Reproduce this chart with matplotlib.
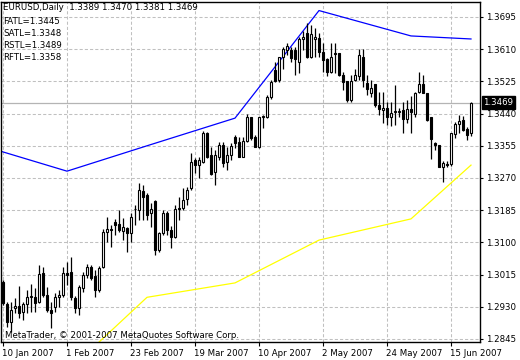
import numpy as np
import pandas as pd
import matplotlib
matplotlib.use('Agg')
import matplotlib.pyplot as plt
import matplotlib.transforms as mtransforms

# ---------------- data ----------------
start_date = '2007-01-10'

opens = [1.2995, 1.2937, 1.2891, 1.2926, 1.2932, 1.2917, 1.2937, 1.2956, 1.2957, 1.2943,
         1.3019, 1.2961, 1.2922, 1.2930, 1.2955, 1.2961, 1.3019, 1.3022, 1.2953, 1.2927,
         1.2980, 1.3014, 1.3035, 1.3011, 1.2974, 1.3036, 1.3127, 1.3135, 1.3155, 1.3149,
         1.3131, 1.3138, 1.3126, 1.3187, 1.3186, 1.3236, 1.3225, 1.3178, 1.3209, 1.3080,
         1.3126, 1.3178, 1.3133, 1.3115, 1.3188, 1.3191, 1.3215, 1.3243, 1.3318, 1.3304,
         1.3313, 1.3389, 1.3331, 1.3287, 1.3326, 1.3357, 1.3313, 1.3331, 1.3378, 1.3366,
         1.3326, 1.3368, 1.3431, 1.3378, 1.3353, 1.3432, 1.3432, 1.3485, 1.3555, 1.3529,
         1.3590, 1.3608, 1.3608, 1.3608, 1.3577, 1.3636, 1.3652, 1.3590, 1.3636, 1.3639,
         1.3603, 1.3583, 1.3551, 1.3599, 1.3599, 1.3542, 1.3527, 1.3476, 1.3529, 1.3538,
         1.3589, 1.3520, 1.3495, 1.3518, 1.3463, 1.3450, 1.3454, 1.3430, 1.3445, 1.3445,
         1.3450, 1.3426, 1.3451, 1.3439, 1.3496, 1.3518, 1.3495, 1.3430, 1.3363, 1.3357,
         1.3300, 1.3307, 1.3307, 1.3386, 1.3413, 1.3423, 1.3399, 1.3389]
highs = [1.3001, 1.2943, 1.2943, 1.2953, 1.2985, 1.2943, 1.2974, 1.2990, 1.2980, 1.3040,
         1.3035, 1.2983, 1.2943, 1.2966, 1.2974, 1.3035, 1.3048, 1.3061, 1.2958, 1.2988,
         1.3022, 1.3043, 1.3040, 1.3027, 1.3038, 1.3135, 1.3168, 1.3146, 1.3162, 1.3186,
         1.3164, 1.3141, 1.3178, 1.3199, 1.3257, 1.3252, 1.3230, 1.3204, 1.3212, 1.3128,
         1.3186, 1.3183, 1.3143, 1.3199, 1.3220, 1.3244, 1.3247, 1.3337, 1.3323, 1.3325,
         1.3394, 1.3391, 1.3353, 1.3344, 1.3366, 1.3366, 1.3353, 1.3362, 1.3384, 1.3379,
         1.3378, 1.3439, 1.3432, 1.3384, 1.3432, 1.3436, 1.3489, 1.3529, 1.3577, 1.3577,
         1.3616, 1.3626, 1.3616, 1.3616, 1.3643, 1.3659, 1.3678, 1.3674, 1.3665, 1.3652,
         1.3626, 1.3586, 1.3626, 1.3626, 1.3599, 1.3551, 1.3527, 1.3542, 1.3557, 1.3610,
         1.3610, 1.3542, 1.3529, 1.3518, 1.3498, 1.3498, 1.3471, 1.3471, 1.3515, 1.3454,
         1.3471, 1.3476, 1.3486, 1.3496, 1.3551, 1.3542, 1.3495, 1.3432, 1.3366, 1.3357,
         1.3316, 1.3316, 1.3390, 1.3419, 1.3436, 1.3434, 1.3405, 1.3470]
lows = [1.2935, 1.2877, 1.2864, 1.2914, 1.2900, 1.2895, 1.2914, 1.2917, 1.2917, 1.2940,
        1.2957, 1.2917, 1.2873, 1.2917, 1.2930, 1.2957, 1.2988, 1.2948, 1.2914, 1.2908,
        1.2969, 1.3006, 1.3001, 1.2956, 1.2969, 1.3032, 1.3102, 1.3089, 1.3120, 1.3128,
        1.3106, 1.3075, 1.3102, 1.3146, 1.3159, 1.3159, 1.3159, 1.3141, 1.3067, 1.3075,
        1.3120, 1.3120, 1.3084, 1.3112, 1.3159, 1.3186, 1.3199, 1.3238, 1.3283, 1.3270,
        1.3310, 1.3323, 1.3278, 1.3251, 1.3318, 1.3300, 1.3291, 1.3318, 1.3349, 1.3325,
        1.3325, 1.3366, 1.3370, 1.3351, 1.3348, 1.3402, 1.3428, 1.3478, 1.3524, 1.3524,
        1.3558, 1.3595, 1.3576, 1.3542, 1.3547, 1.3608, 1.3586, 1.3586, 1.3590, 1.3590,
        1.3551, 1.3539, 1.3548, 1.3547, 1.3539, 1.3502, 1.3471, 1.3471, 1.3527, 1.3529,
        1.3511, 1.3489, 1.3484, 1.3458, 1.3436, 1.3415, 1.3410, 1.3407, 1.3410, 1.3431,
        1.3390, 1.3416, 1.3390, 1.3430, 1.3494, 1.3494, 1.3421, 1.3319, 1.3344, 1.3300,
        1.3260, 1.3299, 1.3302, 1.3375, 1.3388, 1.3394, 1.3370, 1.3381]
closes = [1.2940, 1.2891, 1.2922, 1.2932, 1.2913, 1.2937, 1.2957, 1.2958, 1.2939, 1.3017,
          1.2961, 1.2922, 1.2913, 1.2956, 1.2961, 1.3019, 1.3014, 1.2956, 1.2927, 1.2982,
          1.3014, 1.3035, 1.3006, 1.2974, 1.3032, 1.3128, 1.3135, 1.3134, 1.3146, 1.3133,
          1.3141, 1.3125, 1.3167, 1.3188, 1.3238, 1.3221, 1.3172, 1.3188, 1.3080, 1.3125,
          1.3178, 1.3133, 1.3114, 1.3188, 1.3191, 1.3212, 1.3238, 1.3313, 1.3304, 1.3318,
          1.3389, 1.3326, 1.3280, 1.3331, 1.3357, 1.3310, 1.3331, 1.3355, 1.3363, 1.3326,
          1.3368, 1.3431, 1.3375, 1.3353, 1.3431, 1.3433, 1.3485, 1.3524, 1.3527, 1.3589,
          1.3611, 1.3619, 1.3586, 1.3584, 1.3637, 1.3641, 1.3590, 1.3650, 1.3641, 1.3603,
          1.3582, 1.3551, 1.3590, 1.3598, 1.3542, 1.3524, 1.3476, 1.3527, 1.3542, 1.3595,
          1.3529, 1.3504, 1.3507, 1.3463, 1.3451, 1.3454, 1.3430, 1.3441, 1.3446, 1.3446,
          1.3426, 1.3451, 1.3445, 1.3494, 1.3518, 1.3495, 1.3423, 1.3372, 1.3357, 1.3300,
          1.3309, 1.3304, 1.3389, 1.3413, 1.3421, 1.3397, 1.3384, 1.3469]

# monthly indicator lines
blue_dates = ['2007-01-01', '2007-02-01', '2007-03-01', '2007-04-02', '2007-05-01', '2007-06-01', '2007-06-22']
blue_vals = [1.3361, 1.3288, 1.3355, 1.3428, 1.3712, 1.3645, 1.3637]
yellow_dates = ['2007-02-01', '2007-03-01', '2007-04-02', '2007-05-01', '2007-06-01', '2007-06-22']
yellow_vals = [1.2758, 1.2955, 1.2993, 1.3106, 1.3162, 1.3304]

tick_dates = ['2007-01-10', '2007-02-01', '2007-02-23', '2007-03-19', '2007-04-10',
              '2007-05-02', '2007-05-24', '2007-06-15']
tick_labels = ['10 Jan 2007', '1 Feb 2007', '23 Feb 2007', '19 Mar 2007', '10 Apr 2007',
               '2 May 2007', '24 May 2007', '15 Jun 2007']
ytick_values = [1.2845, 1.2930, 1.3015, 1.3100, 1.3185, 1.3270, 1.3355, 1.3440, 1.3525, 1.3610, 1.3695]
ytick_labels = ['1.2845', '1.2930', '1.3015', '1.3100', '1.3185', '1.3270', '1.3355', '1.3440', '1.3525', '1.3610', '1.3695']

header = 'EURUSD,Daily  1.3389 1.3470 1.3381 1.3469'
legend_lines = ['FATL=1.3445', 'SATL=1.3348', 'RSTL=1.3489', 'RFTL=1.3358']
last_price = 1.3469
copyright_text = 'MetaTrader, \u00a9 2001-2007 MetaQuotes Software Corp.'

# ---------------- plot ----------------
plt.rcParams['font.family'] = ['DejaVu Sans']
FS = 6.2
W, H = 520, 360
fig = plt.figure(figsize=(W / 100, H / 100), dpi=100)
fig.patch.set_facecolor('white')

left_px, right_px, top_px, bottom_px = 1, 480, 2, 342
ax = fig.add_axes([left_px / W, 1 - bottom_px / H, (right_px - left_px) / W, (bottom_px - top_px) / H])
ax.set_facecolor('white')

o = np.array(opens); h = np.array(highs); l = np.array(lows); c = np.array(closes)
x = np.arange(len(o))

def pos(d):
    return np.busday_count(start_date, d)

ax.set_xlim(-0.5, 119.25)
ax.set_ylim(1.2837, 1.37346)

# grid
tick_pos = [pos(d) for d in tick_dates]
grid_kw = dict(color='#c0c0c0', lw=0.75, linestyle=(0, (3, 2)), zorder=0)
for yv in ytick_values:
    ax.axhline(yv, **grid_kw)
for xp in tick_pos:
    ax.axvline(xp, **grid_kw)

# last price line
ax.axhline(last_price, color='#b4b4b4', lw=0.9, zorder=1)

# candles
up = c >= o
ax.vlines(x, l, h, color='black', lw=0.9, zorder=3)
bottom = np.minimum(o, c)
height = np.maximum(np.abs(c - o), 0.00004)
ax.bar(x, height, bottom=bottom, width=0.5,
       color=np.where(up, 'white', 'black'), edgecolor='black', lw=0.8, zorder=4)

# indicator lines
ax.plot([pos(d) for d in blue_dates], blue_vals, color='#0000ff', lw=0.9, zorder=2)
ax.plot([pos(d) for d in yellow_dates], yellow_vals, color='#ffff00', lw=0.9, zorder=2)

# axes styling
for s in ax.spines.values():
    s.set_color('black')
    s.set_linewidth(1.0)
ax.yaxis.tick_right()
ax.set_yticks(ytick_values)
ax.set_yticklabels(ytick_labels)
ax.set_xticks(tick_pos)
ax.set_xticklabels(tick_labels, ha='left')
ax.tick_params(axis='y', direction='out', length=2.5, width=0.8, pad=1.5, labelsize=FS, colors='black')
ax.tick_params(axis='x', direction='out', length=3, width=0.8, pad=2, labelsize=FS, colors='black')
for lab in ax.get_xticklabels():
    lab.set_transform(lab.get_transform() + mtransforms.ScaledTranslation(-1 / 100, 0, fig.dpi_scale_trans))

# texts
def ftxt(px, py, s, **kw):
    fig.text(px / W, 1 - py / H, s, va='center', ha='left', fontsize=FS, color='black', **kw)

ftxt(3, 8, header)
for k, s in enumerate(legend_lines):
    ftxt(3, 21 + 12 * k, s)
ftxt(5, 335, copyright_text)

# last price tag
ax.annotate(f'{last_price:.4f}', xy=(1.0, last_price), xycoords=('axes fraction', 'data'),
            xytext=(2.5, 0), textcoords='offset points', ha='left', va='center',
            fontsize=FS, color='white',
            bbox=dict(boxstyle='square,pad=0.2', fc='black', ec='black'), zorder=10,
            annotation_clip=False)

fig.savefig('out.png', dpi=100)
